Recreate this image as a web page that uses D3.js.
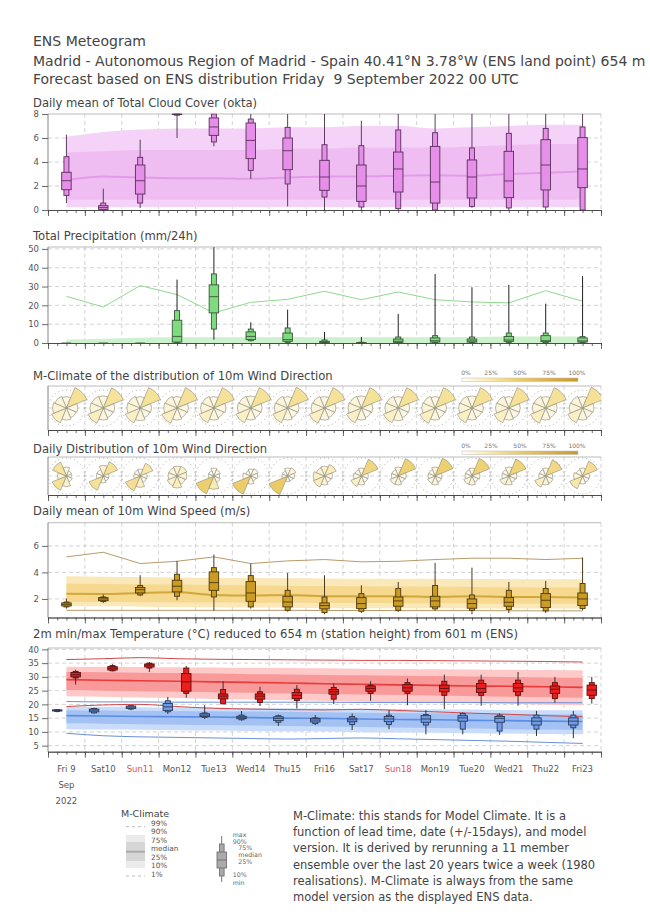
<!DOCTYPE html>
<html><head><meta charset="utf-8">
<script src="https://cdn.jsdelivr.net/npm/d3@7"></script>
<style>body{margin:0;background:#fff}text{font-family:"DejaVu Sans",sans-serif;white-space:pre}</style>
</head><body><script>
// ---------------- DATA ----------------
const dayLabels = ["Fri 9","Sat10","Sun11","Mon12","Tue13","Wed14","Thu15","Fri16","Sat17","Sun18","Mon19","Tue20","Wed21","Thu22","Fri23"];
const sundayLabels = ["Sun11","Sun18"];
const headerLines = ["ENS Meteogram",
 "Madrid - Autonomous Region of Madrid - Spain 40.41°N 3.78°W (ENS land point) 654 m",
 "Forecast based on ENS distribution Friday  9 September 2022 00 UTC"];

// box values: [min, p10, p25, median, p75, p90, max]
const cloudBoxes = [
 [0.58,1.22,1.69,2.44,3.14,4.44,6.28],[0,0,0.05,0.2,0.36,0.58,1.78],[0.17,0.58,1.33,2.44,3.75,4.39,5.86],
 [6.0,7.9,7.95,8,8,8,8],[5.31,5.67,6.22,6.92,7.67,8,8],[2.6,3.3,4.28,5.8,7.25,7.58,8],
 [0.3,2.17,3.36,4.94,6.0,6.89,8],[0,1.08,1.64,2.75,4.14,5.44,8],[0,0.25,0.72,2.0,3.75,5.36,7.44],
 [0,0.11,1.5,3.42,4.83,6.67,8],[0,0,0.58,2.33,5.3,6.44,8],[0.17,0.3,1.0,2.75,4.17,5.17,8],
 [0,0.17,1.03,2.42,4.89,6.39,8],[0,0.25,1.67,3.75,5.86,6.8,8],[0,0,1.86,3.42,6.03,6.92,8]];
const cloudP10 = [0.25,0.25,0.25,0.25,0.25,0.25,0.25,0.25,0.25,0.25,0.25,0.25,0.25,0.25,0.25];
const cloudP25 = [0.85,0.85,0.85,0.85,0.85,0.85,0.85,0.85,0.85,0.85,0.85,0.85,0.85,0.85,0.85];
const cloudMed = [2.5,2.8,2.7,2.65,2.65,2.6,2.7,2.8,2.8,2.85,2.9,2.85,3.0,3.1,3.2];
const cloudP75 = [4.8,4.9,5.0,5.0,5.0,5.0,5.1,5.1,5.2,5.2,5.2,5.3,5.4,5.5,5.5];
const cloudP90 = [6.1,6.5,6.7,6.8,6.8,6.8,6.9,6.9,7.0,7.0,6.8,6.9,7.0,7.1,7.1];

const precipBoxes = [
 [0,0,0,0,0,0,0],[0,0,0,0,0,0,0],[0,0,0,0,0,0,0.1],
 [0,0.35,0.5,3.5,12.1,17.2,33.7],[1.8,7.4,16,24.6,30.9,36.7,50.9],[0.9,1.2,1.8,3.5,5.9,7.4,11],
 [0.2,0.35,0.9,1.8,5.3,8.0,17.7],[0,0,0.2,0.5,0.9,1.6,5.9],[0,0,0,0.1,0.2,0.4,3.2],
 [0,0,0.35,0.9,2.1,3.2,15.4],[0,0.2,0.5,1.2,2.7,3.9,36.7],[0,0.2,0.5,1.1,2.1,3.2,29.6],
 [0,0.35,0.9,1.6,3.5,5.3,30.9],[0,0.2,0.7,1.2,3.9,5.3,20.9],[0,0.2,0.5,1.1,2.7,3.4,35.5]];
const precipP90 = [1.8,2.3,2.8,3.0,3.0,3.0,3.2,3.0,3.0,3.0,3.0,3.2,3.4,3.4,3.4];
const precipP99 = [24.8,19.1,30.5,25.7,16.0,21.6,23.2,27.5,23.0,27.1,23.0,21.8,21.3,27.8,22.2];

// wind direction frequencies (%), sectors N, NE, E, SE, S, SW, W, NW
const climateRoses = [
 [8,30,8,7,9,16,12,10],[9,29,8,7,9,17,11,10],[8,30,8,7,10,16,11,10],[8,30,8,7,9,17,11,10],
 [8,30,9,7,9,16,11,10],[9,30,8,7,9,16,11,10],[8,31,8,7,9,16,11,10],[8,30,8,7,9,17,11,10],
 [9,30,8,7,9,16,11,10],[8,30,8,7,10,16,11,10],[8,30,8,7,9,17,11,10],[9,30,8,7,9,16,11,10],
 [8,30,8,8,9,16,11,10],[8,30,8,7,9,17,11,10],[8,31,8,7,9,16,11,10]];
const dailyRoses = [
 [10,4,3,5,14,30,10,28],[14,30,4,4,6,30,6,6],[6,24,6,6,16,32,5,5],[12,14,12,10,18,14,10,10],
 [8,6,4,6,22,46,4,4],[6,8,6,4,8,48,8,4],[8,10,6,4,4,50,4,4],[12,20,8,6,10,18,16,10],
 [8,40,6,6,10,16,8,6],[10,44,8,6,10,10,6,6],[10,46,6,6,10,8,6,6],[8,45,8,6,10,10,6,6],
 [10,42,8,6,10,12,6,6],[8,38,6,8,10,18,6,6],[8,32,6,6,8,24,10,6]];
const colorbarTicks = [0,25,50,75,100];

const windBoxes = [
 [1.27,1.4,1.47,1.6,1.7,1.77,2.03],[1.7,1.8,1.87,2.0,2.1,2.15,2.33],[2.2,2.3,2.45,2.7,2.86,3.01,3.79],
 [1.9,2.2,2.53,2.96,3.41,3.86,4.87],[1.1,2.15,2.65,3.23,4.04,4.36,5.35],[1.27,1.4,1.82,2.45,3.31,3.76,4.67],
 [1.04,1.14,1.4,1.77,2.2,2.65,3.96],[0.84,0.97,1.25,1.5,1.7,2.15,3.79],[0.94,1.07,1.27,1.65,2.1,2.4,3.03],
 [1.02,1.14,1.45,1.85,2.15,2.78,3.28],[1.1,1.25,1.4,1.85,2.2,3.01,4.72],[0.84,1.14,1.3,1.65,2.0,2.3,4.36],
 [0.94,1.2,1.45,1.75,2.1,2.65,3.28],[0.94,1.1,1.35,1.9,2.4,2.78,3.36],[1.14,1.27,1.5,2.0,2.45,3.16,5.12]];
const windP1  = [1.14,1.14,1.14,1.14,1.14,1.14,1.14,1.13,1.13,1.12,1.12,1.12,1.11,1.1,1.1];
const windP10 = [1.45,1.44,1.42,1.4,1.38,1.36,1.34,1.32,1.3,1.3,1.28,1.28,1.27,1.27,1.27];
const windP25 = [1.77,1.76,1.75,1.74,1.73,1.72,1.71,1.7,1.69,1.68,1.67,1.66,1.66,1.65,1.65];
const windMed = [2.4,2.38,2.45,2.5,2.3,2.25,2.3,2.2,2.2,2.2,2.15,2.2,2.15,2.15,2.1];
const windP75 = [3.16,3.12,3.1,3.08,3.05,3.02,3.0,2.98,2.95,2.93,2.92,2.9,2.88,2.87,2.86];
const windP90 = [3.71,3.68,3.65,3.62,3.6,3.58,3.56,3.55,3.53,3.52,3.52,3.5,3.5,3.48,3.48];
const windP99 = [5.17,5.52,4.67,4.84,5.17,4.67,4.87,4.97,4.8,4.84,4.97,5.07,5.07,4.97,5.07];

const tmaxBoxes = [
 [27.2,29.6,30.0,30.8,31.6,32.0,32.6],[32.0,32.2,32.5,33.2,33.7,34.1,34.6],[31.8,33.2,33.6,34.3,34.7,35.0,35.4],
 [22.4,24.0,24.8,28.2,31.2,33.2,34.0],[20.1,20.2,22.0,23.0,23.8,25.4,28.4],[19.4,20.7,21.9,23.0,23.8,24.6,26.4],
 [18.5,21.4,22.1,23.3,24.3,25.5,27.0],[20.1,21.9,23.7,24.6,25.4,26.2,27.6],[21.3,24.0,24.8,25.8,26.7,27.0,28.4],
 [19.7,24.0,24.8,26.0,27.2,27.9,29.4],[18.3,23.3,24.6,25.8,27.0,28.4,30.8],[19.5,23.3,24.3,25.8,27.6,28.8,30.8],
 [19.5,23.3,24.6,26.0,27.6,28.8,31.8],[20.6,22.1,24.0,25.5,26.7,27.9,30.0],[20.3,22.1,23.3,25.2,27.0,27.9,30.0]];
const tminBoxes = [
 [17.1,17.4,17.6,17.8,18.0,18.1,18.3],[16.7,16.9,17.3,17.9,18.3,18.5,18.8],[17.9,18.3,18.5,19.0,19.4,19.5,19.7],
 [16.5,17.3,17.8,19.1,20.3,21.3,22.7],[14.7,15.3,15.6,16.1,16.6,16.9,19.7],[14.1,14.4,14.8,15.3,15.7,16.1,17.6],
 [12.2,13.5,14.1,14.9,15.5,15.9,16.3],[12.5,13.0,13.6,14.3,14.9,15.1,16.1],[10.7,12.7,13.7,14.4,15.0,15.6,16.7],
 [11.0,12.7,13.7,14.7,15.6,16.1,17.9],[9.1,12.5,13.5,14.7,15.9,16.3,17.9],[9.1,11.0,13.9,15.1,15.9,16.7,17.1],
 [8.9,10.3,13.5,14.9,15.6,16.1,16.7],[8.5,11.0,12.5,13.9,15.1,16.1,17.6],[7.7,11.5,12.5,13.9,15.1,16.1,17.6]];
const tmaxP1  = [19.2,19.8,20.0,19.2,18.6,18.3,18.1,18.0,18.2,17.8,17.3,16.8,16.4,15.9,15.5];
const tmaxP10 = [23.0,22.8,22.5,22.3,22.0,21.8,21.5,21.3,21.0,20.8,20.6,20.4,20.2,19.9,19.7];
const tmaxP25 = [25.2,25.0,24.8,24.6,24.4,24.2,24.0,23.8,23.6,23.4,23.2,23.0,22.8,22.6,22.4];
const tmaxMed = [29.0,28.8,28.6,28.4,28.2,28.0,27.8,27.5,27.3,27.1,26.9,26.7,26.6,26.4,26.2];
const tmaxP75 = [31.8,31.7,31.5,31.4,31.2,31.0,30.9,30.7,30.6,30.4,30.3,30.1,30.0,29.8,29.7];
const tmaxP90 = [33.7,33.7,33.6,33.5,33.4,33.3,33.2,33.1,33.0,32.9,32.8,32.7,32.6,32.5,32.4];
const tmaxP99 = [36.3,36.6,37.0,36.6,36.4,36.3,36.2,36.1,36.0,36.0,35.9,35.8,35.7,35.6,35.4];
const tminP1  = [9.5,8.6,8.2,8.0,7.8,7.6,7.4,7.6,7.8,7.5,7.2,6.9,6.6,6.2,5.8];
const tminP10 = [11.0,10.9,10.8,10.6,10.5,10.3,10.2,10.1,9.9,9.8,9.7,9.5,9.4,9.2,9.1];
const tminP25 = [13.1,13.0,12.8,12.6,12.5,12.3,12.1,12.0,11.8,11.6,11.4,11.2,11.0,10.9,10.7];
const tminMed = [15.9,15.8,15.6,15.5,15.4,15.2,15.0,14.9,14.7,14.5,14.4,14.2,14.1,13.9,13.8];
const tminP75 = [17.9,17.8,17.7,17.6,17.5,17.4,17.3,17.1,17.0,16.9,16.8,16.7,16.5,16.4,16.3];
const tminP90 = [19.1,19.1,19.0,18.9,18.8,18.7,18.6,18.5,18.4,18.3,18.2,18.1,18.0,17.9,17.9];
const tminP99 = [21.05,20.9,20.9,20.8,20.8,20.8,20.8,20.8,20.7,20.7,20.7,20.7,20.6,20.6,20.6];

const climLegendLabels = ["99%","90%","75%","median","25%","10%","1%"];
const boxLegendLabels = ["max","90%","75%","median","25%","10%","min"];
const noteLines = ["M-Climate: this stands for Model Climate. It is a",
 "function of lead time, date (+/-15days), and model",
 "version. It is derived by rerunning a 11 member",
 "ensemble over the last 20 years twice a week (1980",
 "realisations). M-Climate is always from the same",
 "model version as the displayed ENS data."];

// ---------------- DRAWING ----------------
const svg = d3.select("body").append("svg").attr("width",650).attr("height",916);
const x = d3.scaleLinear().domain([0,15]).range([48,601]);
const TXT = "#444";

headerLines.forEach((t,i)=>svg.append("text").attr("x",33).attr("y",[46,66,84][i])
  .attr("font-size",14).attr("fill",TXT).attr("xml:space","preserve").text(t));

function styleAxis(a){
  a.selectAll("path,line").attr("stroke","#444").attr("stroke-width",0.8);
  a.selectAll("text").attr("fill","#555").attr("font-size",8.5).attr("font-family","DejaVu Sans");
}
let clipN = 0;
function panel(c){
  const g = svg.append("g");
  const y = c.domain ? d3.scaleLinear().domain(c.domain).range([c.bottom,c.top]) : null;
  if (y && c.grid) g.selectAll(null).data(c.grid).join("line")
     .attr("x1",48).attr("x2",601).attr("y1",d=>y(d)).attr("y2",d=>y(d))
     .attr("stroke","#c8c8c8").attr("stroke-width",0.8).attr("stroke-dasharray","4,3");
  g.selectAll(null).data(d3.range(1,16)).join("line")
     .attr("x1",d=>x(d)).attr("x2",d=>x(d)).attr("y1",c.top).attr("y2",c.bottom)
     .attr("stroke","#c8c8c8").attr("stroke-width",0.8).attr("stroke-dasharray","4,3");
  g.append("line").attr("x1",48).attr("x2",601).attr("y1",c.top).attr("y2",c.top)
     .attr("stroke","#aaa").attr("stroke-width",0.8);
  if (y && c.ticks){
    const a = g.append("g").attr("transform","translate(48,0)")
      .call(d3.axisLeft(y).tickValues(c.ticks).tickSize(6).tickPadding(3).tickSizeOuter(0));
    styleAxis(a);
    a.select("path.domain").remove();
  }
  g.append("line").attr("x1",48).attr("x2",48).attr("y1",c.top).attr("y2",c.bottom)
     .attr("stroke","#666").attr("stroke-width",0.8);
  const minor = g.append("g").attr("transform",`translate(0,${c.bottom})`)
     .call(d3.axisBottom(x).tickValues(d3.range(0,15.01,0.25)).tickSize(3).tickFormat("").tickSizeOuter(0));
  styleAxis(minor);
  const major = g.append("g").attr("transform",`translate(0,${c.bottom})`)
     .call(d3.axisBottom(x).tickValues(d3.range(0,16)).tickSize(6).tickFormat("").tickSizeOuter(0));
  styleAxis(major);
  svg.append("text").attr("x",33).attr("y",c.titleY).attr("font-size",11.6).attr("fill",TXT).text(c.title);
  const id = "clip"+(clipN++);
  svg.append("clipPath").attr("id",id).append("rect").attr("x",48).attr("y",c.top-0.5)
     .attr("width",553).attr("height",c.bottom-c.top+1);
  const inner = svg.append("g").attr("clip-path",`url(#${id})`);
  return {g:inner,y};
}

function band(g,y,lo,hi,fill){
  g.append("path").datum(d3.range(lo.length))
   .attr("d",d3.area().x(i=>x(i+0.5)).y0(i=>y(lo[i])).y1(i=>y(hi[i])).curve(d3.curveMonotoneX))
   .attr("fill",fill);
}
function cline(g,y,vals,stroke,w){
  g.append("path").datum(d3.range(vals.length))
   .attr("d",d3.line().x(i=>x(i+0.5)).y(i=>y(vals[i])).curve(d3.curveMonotoneX))
   .attr("fill","none").attr("stroke",stroke).attr("stroke-width",w);
}
function pline(g,y,vals,stroke,w){
  g.append("path").datum(d3.range(vals.length))
   .attr("d",d3.line().x(i=>x(i+0.5)).y(i=>y(vals[i])))
   .attr("fill","none").attr("stroke",stroke).attr("stroke-width",w);
}
function boxes(g,y,data,offset,fill,stroke,whisk){
  data.forEach((d,i)=>{
    const [mn,p10,p25,md,p75,p90,mx]=d, xc=x(i+offset);
    g.append("line").attr("x1",xc).attr("x2",xc).attr("y1",y(mx)).attr("y2",y(mn))
      .attr("stroke",whisk||stroke).attr("stroke-width",1);
    g.append("rect").attr("x",xc-2.5).attr("width",5).attr("y",y(p90)).attr("height",Math.max(0,y(p10)-y(p90)))
      .attr("fill",fill).attr("stroke",stroke).attr("stroke-width",0.9);
    g.append("rect").attr("x",xc-4.75).attr("width",9.5).attr("y",y(p75)).attr("height",Math.max(0,y(p25)-y(p75)))
      .attr("fill",fill).attr("stroke",stroke).attr("stroke-width",0.9);
    g.append("line").attr("x1",xc-4.75).attr("x2",xc+4.75).attr("y1",y(md)).attr("y2",y(md))
      .attr("stroke",stroke).attr("stroke-width",0.9);
  });
}

// Cloud cover
{
  const {g,y} = panel({top:114,bottom:210,domain:[0,8],ticks:[0,2,4,6,8],grid:[2,4,6],
    title:"Daily mean of Total Cloud Cover (okta)",titleY:107});
  band(g,y,cloudP10,cloudP90,"#f5d2f7");
  band(g,y,cloudP25,cloudP75,"#efbdf2");
  cline(g,y,cloudMed,"#e39be9",2);
  boxes(g,y,cloudBoxes,0.5,"#e68fe9","#5a2f5c","#5a3f5c");
}
// Precipitation
{
  const {g,y} = panel({top:247,bottom:343,domain:[0,51],ticks:[0,10,20,30,40,50],grid:[10,20,30,40,50],
    title:"Total Precipitation (mm/24h)",titleY:240});
  band(g,y,precipP90.map(()=>0),precipP90,"#cdf0cd");
  pline(g,y,precipP99,"#8fd88f",1);
  boxes(g,y,precipBoxes,0.5,"#7edc7e","#3b553b","#222");
}
// Wind roses
const roseColor = d3.scaleLinear().domain([0,25,50,75,100])
  .range(["#ffffff","#f9e6a6","#eccb66","#dbb046","#c8982e"]);
function roses(top,bottom,data,title,titleY,cbY,rmax,fref){
  const {g} = panel({top,bottom,title,titleY});
  const yc=(top+bottom)/2;
  g.append("line").attr("x1",48).attr("x2",601).attr("y1",yc).attr("y2",yc)
    .attr("stroke","#ccc").attr("stroke-width",0.8).attr("stroke-dasharray","4,3");
  const rs = d3.scaleSqrt().domain([0,fref]).range([0,rmax]);
  const arc = d3.arc().innerRadius(0);
  data.forEach((fr,i)=>{
    const cx=x(i+0.5);
    const rg=g.append("g").attr("transform",`translate(${cx},${yc})`);
    rg.append("circle").attr("r",18).attr("fill","none").attr("stroke","#999")
      .attr("stroke-width",1).attr("stroke-dasharray","0.8,3.2");
    fr.forEach((f,k)=>{
      rg.append("path").attr("d",arc({outerRadius:rs(f),
          startAngle:(k*45-22.5)*Math.PI/180,endAngle:(k*45+22.5)*Math.PI/180}))
        .attr("fill",roseColor(f)).attr("stroke","#8a8a7a").attr("stroke-width",0.6);
    });
  });
  // colour bar
  const cb = d3.scaleLinear().domain([0,100]).range([462,578]);
  const gid="grad"+cbY;
  const grad=svg.append("defs").append("linearGradient").attr("id",gid);
  colorbarTicks.forEach(t=>grad.append("stop").attr("offset",t+"%").attr("stop-color",roseColor(t)));
  svg.append("rect").attr("x",cb(0)).attr("y",cbY).attr("width",cb(100)-cb(0)).attr("height",3.5)
    .attr("fill",`url(#${gid})`).attr("stroke","#bbb").attr("stroke-width",0.5);
  colorbarTicks.forEach(t=>svg.append("text").attr("x",cb(t)+(t===0?4:t===100?-1:0)).attr("y",cbY-3)
    .attr("text-anchor","middle").attr("font-size",6).attr("fill","#777").text(t+"%"));
}
roses(386,430,climateRoses,"M-Climate of the distribution of 10m Wind Direction",380,378,22,30);
roses(457,495,dailyRoses,"Daily Distribution of 10m Wind Direction",453,451,19,45);

// Wind speed
{
  const {g,y} = panel({top:522.7,bottom:617.5,domain:[0.6,7.75],ticks:[2,4,6],grid:[2,4,6],
    title:"Daily mean of 10m Wind Speed (m/s)",titleY:515});
  band(g,y,windP10,windP90,"#fbe8b8");
  band(g,y,windP25,windP75,"#f6d88e");
  cline(g,y,windMed,"#d2a83a",2);
  pline(g,y,windP99,"#b89a6a",1);
  pline(g,y,windP1,"#b89a6a",1);
  boxes(g,y,windBoxes,0.5,"#cb9b22","#4a3810","#4a3a20");
}
// Temperature
{
  const {g,y} = panel({top:648,bottom:751.7,domain:[2.8,40.5],ticks:[5,10,15,20,25,30,35,40],
    grid:[5,10,15,20,25,30,35,40],
    title:"2m min/max Temperature (°C) reduced to 654 m (station height) from 601 m (ENS)",titleY:638});
  band(g,y,tmaxP10,tmaxP90,"#fdc9c9");
  band(g,y,tmaxP25,tmaxP75,"#f89a9a");
  cline(g,y,tmaxMed,"#ec3b3b",1.6);
  band(g,y,tminP10,tminP90,"#c9dcf9");
  band(g,y,tminP25,tminP75,"#a3c2f3");
  cline(g,y,tminMed,"#5a8de3",1.6);
  cline(g,y,tmaxP99,"#d04848",1);
  cline(g,y,tmaxP1,"#d04848",1);
  cline(g,y,tminP99,"#6a8fd8",1);
  cline(g,y,tminP1,"#6a8fd8",1);
  boxes(g,y,tminBoxes,0.25,"#6f9beb","#2b3a55","#333");
  boxes(g,y,tmaxBoxes,0.75,"#ee1c1c","#5a1212","#333");
  dayLabels.forEach((t,i)=>svg.append("text").attr("x",x(i+0.5)).attr("y",772).attr("text-anchor","middle")
    .attr("font-size",8.5).attr("fill",sundayLabels.includes(t)?"#e0505a":"#555").text(t));
  svg.append("text").attr("x",x(0.5)).attr("y",788).attr("text-anchor","middle").attr("font-size",8.5).attr("fill","#555").text("Sep");
  svg.append("text").attr("x",x(0.5)).attr("y",804).attr("text-anchor","middle").attr("font-size",8.5).attr("fill","#555").text("2022");
}

// Legend: M-Climate
svg.append("text").attr("x",121).attr("y",817).attr("font-size",9.5).attr("fill",TXT).text("M-Climate");
svg.append("line").attr("x1",126).attr("x2",145).attr("y1",826.7).attr("y2",826.7).attr("stroke","#bbb").attr("stroke-dasharray","3,3");
svg.append("rect").attr("x",126).attr("y",835).attr("width",19).attr("height",33).attr("fill","#ebebeb");
svg.append("rect").attr("x",126).attr("y",842).attr("width",19).attr("height",19).attr("fill","#d6d6d6");
svg.append("line").attr("x1",126).attr("x2",145).attr("y1",851.7).attr("y2",851.7).attr("stroke","#aaa").attr("stroke-width",2);
svg.append("line").attr("x1",126).attr("x2",145).attr("y1",876).attr("y2",876).attr("stroke","#bbb").attr("stroke-dasharray","3,3");
climLegendLabels.forEach((t,i)=>svg.append("text").attr("x",151).attr("y",825.5+i*8.5)
  .attr("font-size",7.3).attr("fill","#555").text(t));
// Legend: box
svg.append("line").attr("x1",221.7).attr("x2",221.7).attr("y1",836).attr("y2",882).attr("stroke","#777");
svg.append("rect").attr("x",219.4).attr("y",844).attr("width",4.7).attr("height",32).attr("fill","#aaa").attr("stroke","#666").attr("stroke-width",0.8);
svg.append("rect").attr("x",217).attr("y",852).attr("width",9.4).attr("height",16).attr("fill","#aaa").attr("stroke","#666").attr("stroke-width",0.8);
svg.append("line").attr("x1",217).attr("x2",226.4).attr("y1",860).attr("y2",860).attr("stroke","#666").attr("stroke-width",0.8);
boxLegendLabels.forEach((t,i)=>svg.append("text").attr("x",[232.7,232.7,238.3,238.3,238.3,232.7,232.7][i])
  .attr("y",[836.5,843.5,850,857,864,877,885][i]).attr("font-size",6.3).attr("fill","#666").text(t));
// Note
noteLines.forEach((t,i)=>svg.append("text").attr("x",293).attr("y",820+i*16.2).attr("font-size",11.5).attr("fill",TXT).text(t));
</script></body></html>
